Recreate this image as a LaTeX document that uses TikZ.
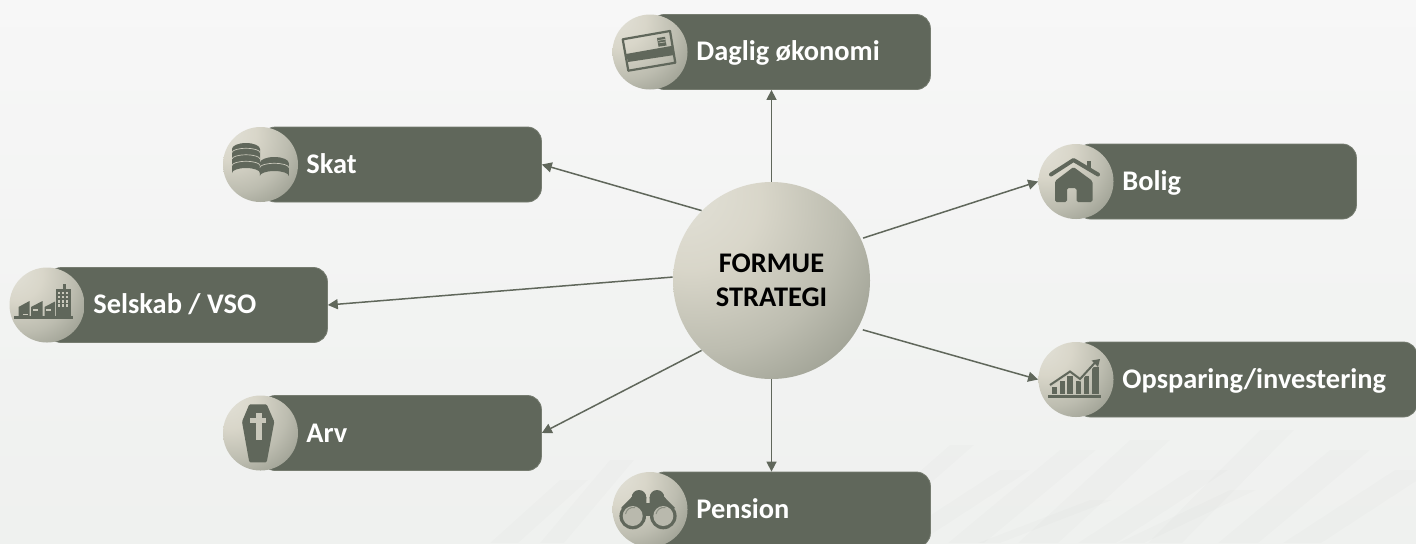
\documentclass[tikz,border=0pt]{standalone}
\usepackage{fontspec}
\setmainfont{Carlito}
\definecolor{boxfill}{HTML}{60675B}
\definecolor{boxedge}{HTML}{767C70}
\definecolor{linecol}{HTML}{60675B}
\definecolor{iconlight}{HTML}{C9C8BB}
\pgfdeclareradialshading{sphere}{\pgfpoint{-25bp}{25bp}}{
  rgb(0bp)=(0.89,0.885,0.85);
  rgb(18bp)=(0.85,0.84,0.79);
  rgb(35bp)=(0.74,0.74,0.69);
  rgb(50bp)=(0.60,0.61,0.56);
  rgb(66bp)=(0.42,0.44,0.40);
  rgb(110bp)=(0.38,0.41,0.36)}
\pgfdeclareverticalshading{bgshade}{100bp}{
  rgb(0bp)=(0.925,0.933,0.922);
  rgb(40bp)=(0.945,0.950,0.945);
  rgb(70bp)=(0.965,0.965,0.965);
  rgb(100bp)=(0.985,0.985,0.985)}
\usetikzlibrary{arrows.meta}
\tikzset{
  topicbox/.style={draw=boxedge,line width=0.4pt,fill=boxfill,rounded corners=7pt,rectangle,inner sep=0pt,minimum height=37.5pt},
  orb/.style={circle,inner sep=0pt,shading=sphere,minimum size=37.5pt},
  hubnode/.style={circle,inner sep=0pt,shading=sphere,minimum size=98.5pt,font=\fontsize{14.2}{17}\selectfont\bfseries,align=center,text=black},
  lbl/.style={inner sep=0pt,text=white,font=\fontsize{14.2}{16}\selectfont\bfseries},
  link/.style={draw=linecol,line width=0.75pt,-{Triangle[length=5pt,width=5pt]}},
  ico/.style={fill=boxfill,draw=none},
  streak/.style={fill=black,fill opacity=0.012,draw=none},
}
\begin{document}
\begin{tikzpicture}[x=0.5pt,y=-0.5pt]
\useasboundingbox (0,0) rectangle (1416,543);
\clip (0,0) rectangle (1416,543);
\shade[shading=bgshade] (0,0) rectangle (1416,543);
% faint streaks in the background
\foreach \x/\t/\w in {950/445/24,1000/470/30,1060/450/36,1130/440/40,1190/470/38,1260/430/34,1330/450/40,1395/470/38,1090/500/22,1230/490/26}{
  \fill[streak] (\x,\t) -- ++(\w,0) -- (\x+\w-112,543) -- (\x-112,543) -- cycle;
}
\foreach \x/\t/\w in {560/480/28,610/460/24}{
  \fill[streak] (\x,\t) -- ++(\w,0) -- (\x+\w-70,543) -- (\x-70,543) -- cycle;
}
% boxes
\node[topicbox,anchor=west,minimum width=140pt] (bDaglig) at (650,52) {};
\node[topicbox,anchor=west,minimum width=140pt] (bSkat) at (261,164.5) {};
\node[topicbox,anchor=west,minimum width=140pt] (bSelskab) at (47,305) {};
\node[topicbox,anchor=west,minimum width=140pt] (bArv) at (261,433) {};
\node[topicbox,anchor=west,minimum width=140pt] (bPension) at (650,509.5) {};
\node[topicbox,anchor=west,minimum width=140pt] (bBolig) at (1076,181.5) {};
\node[topicbox,anchor=west,minimum width=170.5pt] (bOpsparing) at (1076,379.5) {};
% orbs
\node[orb] (oDaglig) at (650,52) {};
\node[orb] (oSkat) at (260.5,164.5) {};
\node[orb] (oSelskab) at (47,305) {};
\node[orb] (oArv) at (260.5,433) {};
\node[orb] (oPension) at (650,509.5) {};
\node[orb] (oBolig) at (1076,181.5) {};
\node[orb] (oOpsparing) at (1076,379.5) {};
% labels
\node[lbl,anchor=base west] (tDaglig) at (696,60.5) {Daglig økonomi};
\node[lbl,anchor=base west] (tSkat) at (306,173.5) {Skat};
\node[lbl,anchor=base west] (tSelskab) at (93,313.5) {Selskab / VSO};
\node[lbl,anchor=base west] (tArv) at (306,442.5) {Arv};
\node[lbl,anchor=base west] (tPension) at (696,518.5) {Pension};
\node[lbl,anchor=base west] (tBolig) at (1122,190.5) {Bolig};
\node[lbl,anchor=base west] (tOpsparing) at (1122,388.5) {Opsparing/investering};
% hub
\node[hubnode] (hub) at (771.5,280.5) {FORMUE\\STRATEGI};
% connectors
\draw[link] (hub.90) -- (bDaglig.south -| hub.90);
\draw[link] (hub.135) -- (bSkat.east);
\draw[link] (hub.178) -- (bSelskab.east);
\draw[link] (hub.225) -- (bArv.east);
\draw[link] (hub.270) -- (bPension.north -| hub.270);
\draw[link,shorten <=1pt] (hub.25.5) -- (oBolig.west);
\draw[link,shorten <=2.5pt] (hub.331) -- (oOpsparing.west);
% card icon
\draw[boxfill,line width=1.1pt,line join=round] (622.7,39.3) -- (670,31) -- (675.3,62.7) -- (628.3,70.7) -- cycle;
\fill[ico] (626,54) -- (672.8,45.7) -- (674.3,55) -- (628,62) -- cycle;
\fill[ico] (657,38) -- (665,36.8) -- (666.5,45.5) -- (658.5,46.7) -- cycle;
\draw[iconlight,line width=0.25pt] (658,40.5) -- (665.5,39.3) (658.5,43) -- (666,41.8);
% coins icon
\foreach \cx/\cy/\bt/\rx in {246/149/173/14,274.3/163/176/14.5}{
  \fill[ico] (\cx-\rx,\cy) -- (\cx-\rx,\bt) arc[start angle=180,end angle=360,x radius=\rx,y radius=5] -- (\cx+\rx,\cy) -- cycle;
  \fill[ico] (\cx,\cy) ellipse[x radius=\rx,y radius=6];
}
\foreach \o in {0,6.5,13}{
  \draw[iconlight,line width=0.35pt] (232,152.5+\o) arc[start angle=180,end angle=360,x radius=14,y radius=4.2];
}
\draw[iconlight,line width=0.35pt] (259.8,167.5) arc[start angle=180,end angle=360,x radius=14.5,y radius=4.2];
% factory icon
\fill[ico] (14,316) rectangle (72.5,318.5);
\fill[ico] (18.5,316) -- (18.5,307) -- (29.5,301) -- (29.5,316) -- cycle;
\fill[ico] (31,316) -- (31,307) -- (42.5,301) -- (42.5,316) -- cycle;
\fill[ico] (44.5,316) -- (44.5,307) -- (55,301.5) -- (55,316) -- cycle;
\fill[ico] (56,289) rectangle (71,316);
\fill[ico] (63.3,283.5) rectangle (65.5,289);
\foreach \i in {0,1,2,3}{\foreach \j in {0,1,2}{
  \fill[iconlight] (58+\j*4,291.5+\i*4.2) rectangle +(2.4,2.6);}}
\foreach \x/\y in {22.5/313.5,33/309,45.5/309}{
  \fill[iconlight] (\x,\y) rectangle +(5,1.6);}
% coffin icon
\fill[ico,rounded corners=0.6pt] (249.3,404.3) -- (266.7,404.3) -- (274.3,421.7) -- (266.7,462.3) -- (249.3,462.3) -- (242,421.7) -- cycle;
\fill[iconlight] (255.7,413.3) rectangle (261.7,440.3);
\fill[iconlight] (250,418.3) rectangle (266,423.3);
% binoculars icon
\fill[ico] (639,497.3) circle[radius=7.3];
\fill[ico] (657,497.3) circle[radius=7.3];
\fill[ico] (631.7,497) -- (621,508) -- (632.7,516) -- (646.3,510) -- (646.3,497) -- cycle;
\fill[ico] (664.3,497) -- (675,508) -- (663.3,516) -- (649.7,510) -- (649.7,497) -- cycle;
\fill[ico] (645,503) rectangle (651,516);
\fill[ico] (632.7,516) circle[radius=13.3];
\fill[ico] (663.3,516) circle[radius=13.3];
\fill[iconlight!85!boxfill] (632.7,516) circle[radius=10];
\fill[iconlight!85!boxfill] (663.3,516) circle[radius=10];
\draw[boxfill!60!iconlight,line width=0.5pt] (625.5,514) arc[start angle=190,end angle=280,radius=8];
\draw[boxfill!60!iconlight,line width=0.5pt] (656,514) arc[start angle=190,end angle=280,radius=8];
% house icon
\draw[boxfill,line width=2pt,line cap=round,line join=round] (1051,174.5) -- (1073.5,160) -- (1098,174.5);
\fill[ico] (1086.5,160.5) rectangle (1090.5,170);
\fill[ico,rounded corners=0.8pt] (1055,181) -- (1073.5,167) -- (1092.5,181) -- (1092.5,202) -- (1076.5,202) -- (1076.5,188) -- (1067,188) -- (1067,202) -- (1055,202) -- cycle;
% chart icon
\fill[ico] (1048,395) rectangle (1101,398);
\fill[ico] (1052,387) rectangle (1057,394);
\fill[ico] (1059.5,381) rectangle (1064.5,394);
\fill[ico] (1067,376) rectangle (1073,394);
\fill[ico] (1075.5,381) rectangle (1081,394);
\fill[ico] (1083.5,376) rectangle (1088.5,394);
\fill[ico] (1091.5,367) rectangle (1098.5,394);
\draw[iconlight,line width=1.6pt] (1050,386) -- (1070,372) -- (1080,379.5) -- (1096,362);
\draw[boxfill,line width=1pt] (1050,385) -- (1070,371.5) -- (1080,379) -- (1096,361.5);
\fill[ico] (1100,359) -- (1091.5,360.5) -- (1098,367) -- cycle;
\end{tikzpicture}
\end{document}
